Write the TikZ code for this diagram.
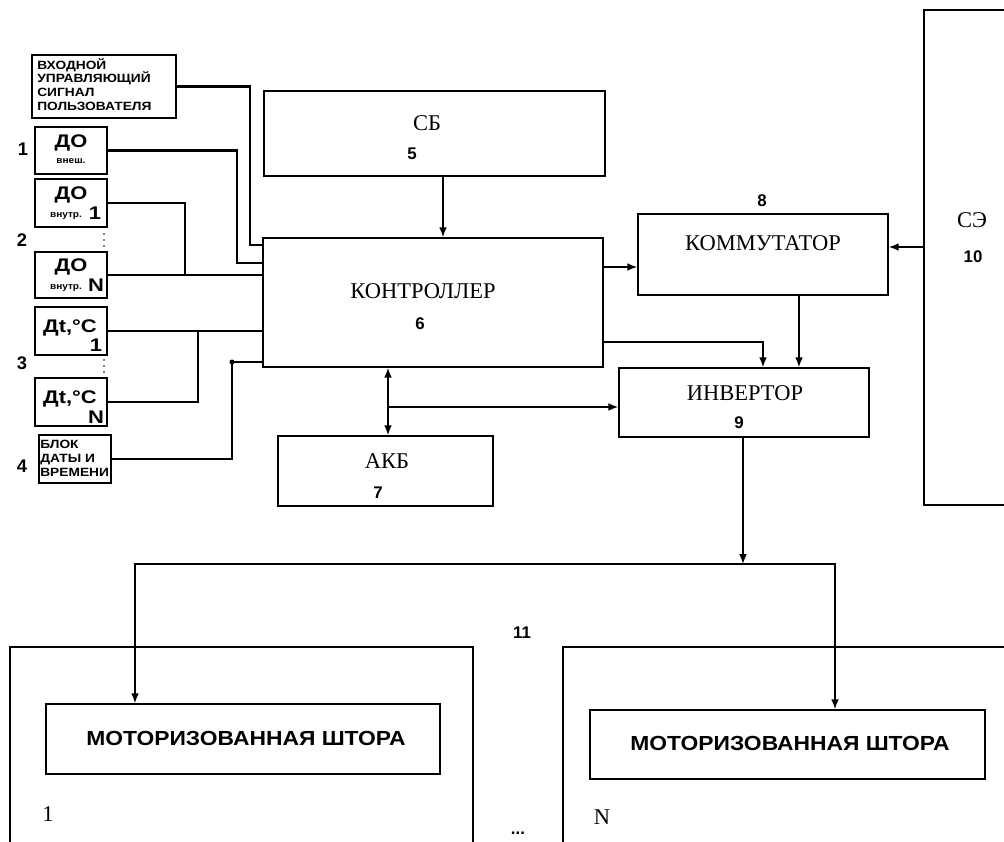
\documentclass[tikz,border=0pt]{standalone}
\usepackage{fontspec}
\setmainfont{Liberation Serif}
\setsansfont{Liberation Sans}
\usetikzlibrary{arrows.meta,fit}

\tikzset{
  box/.style={draw,line width=1.1pt,inner sep=0pt},
  wire/.style={line width=2pt},
  link/.style={line width=1.1pt,-{Latex[length=7pt,width=5.5pt]}},
  link2/.style={line width=1.1pt,{Latex[length=7pt,width=5.5pt]}-{Latex[length=7pt,width=5.5pt]}},
  title/.style={font=\fontsize{16}{18}\selectfont,inner sep=0pt},
  num/.style={font=\sffamily\bfseries\fontsize{12}{14}\selectfont,inner sep=0pt},
  side/.style={font=\sffamily\bfseries\fontsize{13}{15}\selectfont,inner sep=0pt},
  tag/.style={font=\sffamily\bfseries\fontsize{8.5}{9.8}\selectfont,align=left,inner sep=0pt,xscale=1.15},
  big/.style={font=\sffamily\bfseries\fontsize{13}{15}\selectfont,inner sep=0pt,xscale=1.2},
  small/.style={font=\sffamily\bfseries\fontsize{6.5}{8}\selectfont,inner sep=0pt,xscale=1.1},
  curtain/.style={font=\sffamily\bfseries\fontsize{14.5}{16}\selectfont,inner sep=0pt,xscale=1.12},
}

\begin{document}
\begin{tikzpicture}[x=0.025cm,y=-0.025cm]
  \clip (0,0) rectangle (1004,841);

  % sensors and inputs on the left
  \node[box,fit={(32,55)(176,118)}] (usr) {};
  \node[box,fit={(35,127)(107,174)}] (dout) {};
  \node[box,fit={(35,179)(107,227)}] (din1) {};
  \node[box,fit={(35,252)(107,298)}] (dinN) {};
  \node[box,fit={(35,307)(107,355)}] (dt1) {};
  \node[box,fit={(35,378)(107,426)}] (dtN) {};
  \node[box,fit={(39,435)(111,483)}] (clk) {};

  \node[tag,anchor=north west] (t-usr) at (37,58) {ВХОДНОЙ\\УПРАВЛЯЮЩИЙ\\СИГНАЛ\\ПОЛЬЗОВАТЕЛЯ};
  \node[big] (t-dout) at (71,143) {ДО};
  \node[small] (t-dout2) at (71,161) {внеш.};
  \node[big] (t-din1) at (71,195) {ДО};
  \node[small] (t-din1b) at (66,216) {внутр.};
  \node[big] (t-din1c) at (95,213) {1};
  \node[big] (t-dinN) at (71,267) {ДО};
  \node[small] (t-dinNb) at (66,288) {внутр.};
  \node[big] (t-dinNc) at (96,285) {N};
  \node[big] (t-dt1) at (70,328) {Дt,°C};
  \node[big] (t-dt1b) at (96,345) {1};
  \node[big] (t-dtN) at (70,399) {Дt,°C};
  \node[big] (t-dtNb) at (96,417) {N};
  \node[tag,anchor=north west] (t-clk) at (40,440) {БЛОК\\ДАТЫ И\\ВРЕМЕНИ};

  \node[side] (n1) at (23,149) {1};
  \node[side] (n2) at (22,240) {2};
  \node[side] (n3) at (22,363) {3};
  \node[side] (n4) at (22,466) {4};
  % dotted gaps between the first and last sensor of a group
  \foreach \y in {234,240,246,360,366,372}
    \fill (104,\y) circle (0.6pt);

  % main blocks
  \node[box,fit={(264,91)(605,176)}] (sb) {};
  \node[box,fit={(263,238)(603,367)}] (ctrl) {};
  \node[box,fit={(278,436)(493,506)}] (akb) {};
  \node[box,fit={(638,214)(888,295)}] (komm) {};
  \node[box,fit={(619,368)(869,437)}] (inv) {};
  \node[box,fit={(924,10)(1015,505)}] (se) {};

  \node[title] (t-sb) at (427,123) {СБ};
  \node[num] (t-sb5) at (412,154) {5};
  \node[title] (t-ctrl) at (423,291) {КОНТРОЛЛЕР};
  \node[num] (t-ctrl6) at (420,324) {6};
  \node[title] (t-akb) at (387,461) {АКБ};
  \node[num] (t-akb7) at (378,493) {7};
  \node[num] (t-komm8) at (762,201) {8};
  \node[title] (t-komm) at (763,243) {КОММУТАТОР};
  \node[title] (t-inv) at (745,393) {ИНВЕРТОР};
  \node[num] (t-inv9) at (739,423) {9};
  \node[title] (t-se) at (972,220) {СЭ};
  \node[num] (t-se10) at (973,257) {10};

  % curtains
  \node[box,fit={(10,647)(473,850)}] (out1) {};
  \node[box,fit={(563,647)(1015,850)}] (outN) {};
  \node[box,fit={(46,704)(440,774)}] (cur1) {};
  \node[box,fit={(590,710)(985,779)}] (curN) {};
  \node[curtain] (t-cur1) at (246,738) {МОТОРИЗОВАННАЯ ШТОРА};
  \node[curtain] (t-curN) at (790,743) {МОТОРИЗОВАННАЯ ШТОРА};
  \node[title] (t-out1) at (48,814) {1};
  \node[title] (t-outN) at (602,817) {N};
  \node[num] (t-11) at (522,633) {11};
  \node[num] (t-more) at (518,833) {...};

  % inputs into the controller
  \draw[wire] (usr.east) -| (250,245) -- (ctrl.west |- 250,245);
  \draw[wire] (dout.east) -| (237,263) -- (ctrl.west |- 237,263);
  \draw[wire] (din1.east) -| (185,275);
  \draw[wire] (dinN.east) -- (dinN.east -| ctrl.west);
  \draw[wire] (dtN.east) -| (198,331);
  \draw[wire] (dt1.east) -- (dt1.east -| ctrl.west);
  \coordinate (jclk) at (232,362);
  \draw[wire] (clk.east) -| (jclk) -- (ctrl.west |- jclk);
  \fill (jclk) circle (1.8pt);

  % power and control links
  \draw[link] (sb.south -| 443,0) -- (ctrl.north -| 443,0);
  \draw[link2] (ctrl.south -| 388,0) -- (akb.north -| 388,0);
  \coordinate (tap) at (388,407);
  \draw[link] (tap) -- (tap -| inv.west);
  \draw[link] (ctrl.east |- 0,267) -- (komm.west |- 0,267);
  \draw[link] (se.west |- 0,247) -- (komm.east |- 0,247);
  \draw[link] (ctrl.east |- 0,342) -| (inv.north -| 763,0);
  \draw[link] (komm.south -| 799,0) -- (inv.north -| 799,0);

  % inverter feeds the curtains
  \coordinate (bus) at (743,564);
  \draw[link] (inv.south -| bus) -- (bus);
  \draw[link] (bus) -| (cur1.north -| 135,0);
  \draw[link] (bus) -| (curN.north -| 835,0);
\end{tikzpicture}
\end{document}
